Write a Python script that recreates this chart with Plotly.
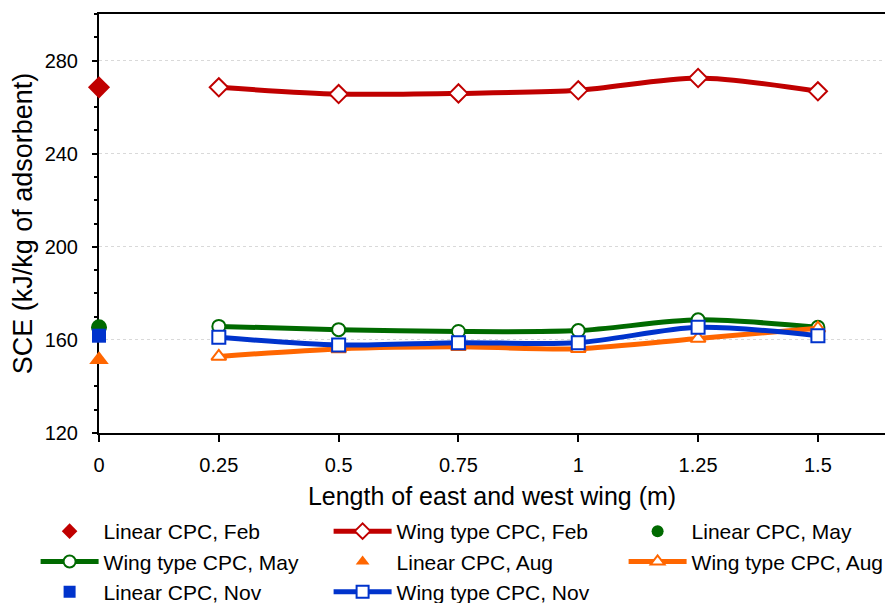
import plotly.graph_objects as go

# Wing length of the east/west reflector (m)
wing_len = [0.25, 0.5, 0.75, 1.0, 1.25, 1.5]
linear_len = [0.0]

# Specific cooling effect, kJ per kg of adsorbent
feb_wing = [268.5, 265.6, 265.9, 267.2, 272.5, 266.8]
may_wing = [165.8, 164.4, 163.6, 164.0, 168.6, 165.4]
aug_wing = [152.9, 156.1, 157.0, 156.2, 160.6, 165.0]
nov_wing = [161.1, 157.8, 158.8, 158.8, 165.4, 161.8]

feb_linear = [268.5]
may_linear = [165.4]
aug_linear = [151.5]
nov_linear = [161.8]

x_ticks = [0, 0.25, 0.5, 0.75, 1, 1.25, 1.5]
x_tick_text = ["0", "0.25", "0.5", "0.75", "1", "1.25", "1.5"]
y_ticks = [120, 160, 200, 240, 280]

RED, GREEN, ORANGE, BLUE = "#C00000", "#006A00", "#FF6600", "#0033CC"
FONT = "Arial, Liberation Sans, sans-serif"
W, H = 885, 603
ML, MR, MT, MB = 99, 0, 14, 170
PW, PH = W - ML - MR, H - MT - MB

fig = go.Figure()


def linear(y, name, color, symbol, size, legend):
    fig.add_trace(go.Scatter(
        x=linear_len, y=y, name=name, mode="markers", cliponaxis=False,
        marker=dict(symbol=symbol, size=size, color=color, line=dict(width=0)),
        legend=legend))


def wing(y, name, color, symbol, size, legend):
    fig.add_trace(go.Scatter(
        x=wing_len, y=y, name=name, mode="lines+markers", cliponaxis=False,
        line=dict(color=color, width=5, shape="spline", smoothing=0.8),
        marker=dict(symbol=symbol, size=size, color="white",
                    line=dict(color=color, width=2)),
        legend=legend))


linear(feb_linear, "Linear CPC, Feb", RED, "diamond", 17, "legend")
wing(feb_wing, "Wing type CPC, Feb", RED, "diamond", 14, "legend2")
linear(may_linear, "Linear CPC, May", GREEN, "circle", 16, "legend3")
wing(may_wing, "Wing type CPC, May", GREEN, "circle", 13, "legend")
linear(aug_linear, "Linear CPC, Aug", ORANGE, "triangle-up", 17, "legend2")
wing(aug_wing, "Wing type CPC, Aug", ORANGE, "triangle-up", 13, "legend3")
linear(nov_linear, "Linear CPC, Nov", BLUE, "square", 14, "legend")
wing(nov_wing, "Wing type CPC, Nov", BLUE, "square", 13, "legend2")

x_range = [0, 1.64]
y_range = [120, 300]

legend_style = dict(
    orientation="v", xanchor="left", yanchor="top",
    font=dict(family=FONT, size=21, color="black"),
    bgcolor="rgba(0,0,0,0)", itemwidth=58, tracegroupgap=0,
    itemsizing="constant",
)
legend_top = (H - MB - 511) / PH


def legend_x(px):
    return (px - ML) / PW


fig.update_layout(
    width=W, height=H,
    margin=dict(l=ML, r=MR, t=MT, b=MB, autoexpand=False),
    paper_bgcolor="white", plot_bgcolor="white",
    font=dict(family=FONT, color="black"),
    xaxis=dict(
        range=x_range, tickvals=x_ticks, ticktext=x_tick_text,
        ticks="outside", ticklen=7, tickwidth=2, tickcolor="black",
        tickfont=dict(size=20), ticklabelstandoff=6,
        showline=True, linecolor="black", linewidth=2, mirror=True,
        showgrid=False, zeroline=False, layer="below traces",
        title=dict(text="Length of east and west wing (m)",
                   font=dict(size=25), standoff=12),
    ),
    yaxis=dict(
        range=y_range, tickvals=y_ticks,
        ticks="outside", ticklen=5, tickwidth=2, tickcolor="black",
        tickfont=dict(size=20), ticklabelstandoff=10,
        minor=dict(dtick=10, ticks="outside", ticklen=3, tickwidth=2,
                   tickcolor="black", showgrid=False),
        showline=True, linecolor="black", linewidth=2,
        showgrid=True, gridcolor="#D9D9D9", griddash="dot", gridwidth=1,
        zeroline=False, layer="below traces",
        title=dict(text="SCE (kJ/kg of adsorbent)",
                   font=dict(size=27), standoff=4),
    ),
    # second pair of axes supplies the inner half of the crossing tick marks
    xaxis2=dict(
        overlaying="x", anchor="y", side="bottom", range=x_range,
        tickvals=x_ticks, showticklabels=False,
        ticks="inside", ticklen=6, tickwidth=2, tickcolor="black",
        showline=False, showgrid=False, zeroline=False,
    ),
    yaxis2=dict(
        overlaying="y", anchor="x", side="left", range=y_range,
        tickvals=y_ticks, showticklabels=False,
        ticks="inside", ticklen=7, tickwidth=2, tickcolor="black",
        minor=dict(dtick=10, ticks="inside", ticklen=5, tickwidth=2,
                   tickcolor="black", showgrid=False),
        showline=False, showgrid=False, zeroline=False,
    ),
    legend=dict(legend_style, x=legend_x(35.6), y=legend_top),
    legend2=dict(legend_style, x=legend_x(328.6), y=legend_top),
    legend3=dict(legend_style, x=legend_x(623.6), y=legend_top),
    showlegend=True,
)

fig.write_html("out.html")
